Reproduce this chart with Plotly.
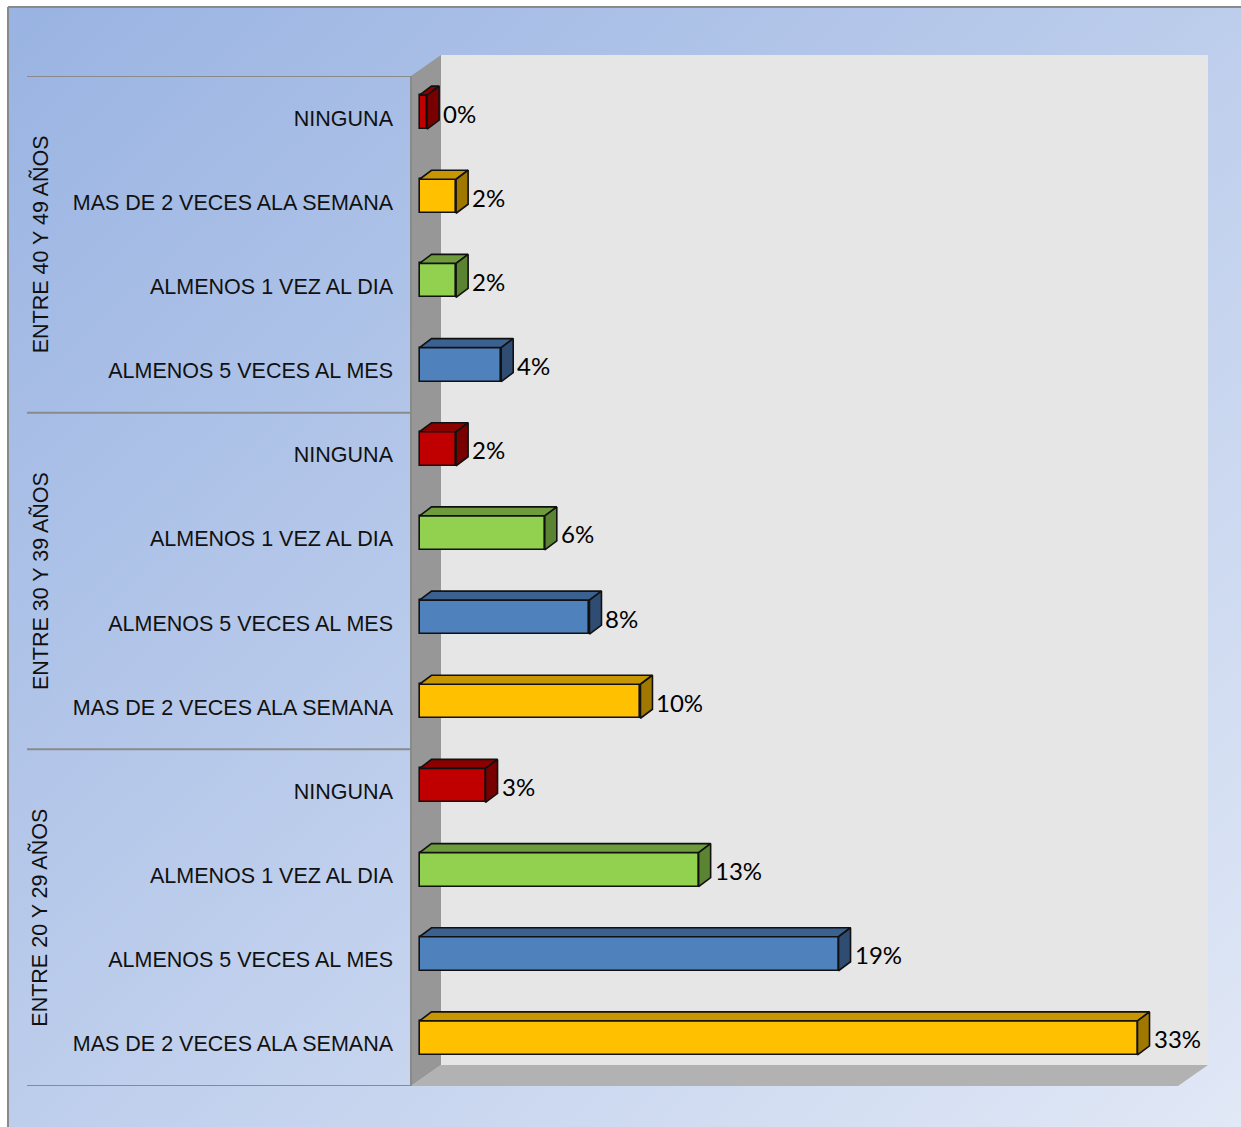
import base64
import plotly.graph_objects as go

# ---------------- data ----------------
groups = ["ENTRE 20 Y 29 AÑOS", "ENTRE 30 Y 39 AÑOS", "ENTRE 40 Y 49 AÑOS"]
categories = [
    "MAS DE 2 VECES ALA SEMANA", "ALMENOS 5 VECES AL MES", "ALMENOS 1 VEZ AL DIA", "NINGUNA",
    "MAS DE 2 VECES ALA SEMANA", "ALMENOS 5 VECES AL MES", "ALMENOS 1 VEZ AL DIA", "NINGUNA",
    "ALMENOS 5 VECES AL MES", "ALMENOS 1 VEZ AL DIA", "MAS DE 2 VECES ALA SEMANA", "NINGUNA",
]
group_index = [0, 0, 0, 0, 1, 1, 1, 1, 2, 2, 2, 2]
values = [32.95, 19.23, 12.81, 3.03, 10.14, 7.80, 5.75, 1.68, 3.75, 1.68, 1.68, 0.35]

# ---------------- styles ----------------
palette = {
    "MAS DE 2 VECES ALA SEMANA": ("#FFC000", "#C89600", "#A07800"),
    "ALMENOS 5 VECES AL MES": ("#4F81BD", "#3B6190", "#2F4D72"),
    "ALMENOS 1 VEZ AL DIA": ("#92D050", "#6E9C3C", "#5B8432"),
    "NINGUNA": ("#C00000", "#8C0000", "#780000"),
}

W, H = 1241, 1127
L, R, T, B = 411, 1178, 76, 1086      # front plane of plot area (px)
X0PX = 419.5                          # bar start (px)
SX = (1137.5 - X0PX) / 32.95          # px per percent
n = len(categories)
SY = (B - T) / n
DEPTH_X, DEPTH_Y = 30, 21             # wall depth (px)
BAR_DX, BAR_DY = 12, 9                # bar depth (px)
BW = 34 / SY                          # bar thickness (y units)
BOFF = 6 / SY                         # bar center offset (y units)
DXU, DYU = BAR_DX / SX, BAR_DY / SY
LABEL_FONT = "Liberation Sans, Arial, sans-serif"


def pxx(p):
    return (p - L) / (R - L)


def pxy(p):
    return (B - p) / (B - T)


def path(points):
    return "M " + " L ".join(f"{pxx(a):.5f},{pxy(b):.5f}" for a, b in points) + " Z"


ypos = [i + BOFF for i in range(n)]
front = [palette[c][0] for c in categories]

fig = go.Figure()
fig.add_trace(go.Bar(
    x=values, y=ypos, orientation="h", width=BW,
    marker=dict(color=front, line=dict(color="#111111", width=1.6)),
    hoverinfo="skip", showlegend=False,
))

for v, yc, c in zip(values, ypos, categories):
    _, top_c, side_c = palette[c]
    yt, yb = yc + BW / 2, yc - BW / 2
    fig.add_trace(go.Scatter(
        x=[0, DXU, v + DXU, v, 0], y=[yt, yt + DYU, yt + DYU, yt, yt],
        fill="toself", fillcolor=top_c, mode="lines",
        line=dict(color="#111111", width=1.6), hoverinfo="skip", showlegend=False))
    fig.add_trace(go.Scatter(
        x=[v, v + DXU, v + DXU, v, v], y=[yt, yt + DYU, yb + DYU, yb, yt],
        fill="toself", fillcolor=side_c, mode="lines",
        line=dict(color="#111111", width=1.6), hoverinfo="skip", showlegend=False))

annotations = []
for v, yc in zip(values, ypos):
    annotations.append(dict(
        x=v, y=yc, xref="x", yref="y", text=f"{round(v)}%", showarrow=False,
        xanchor="left", yanchor="middle", xshift=BAR_DX + 2, yshift=-1,
        font=dict(family="Lato, Open Sans, sans-serif", size=24, color="#000000")))

for gi, g in enumerate(groups):
    idx = [i for i, k in enumerate(group_index) if k == gi]
    annotations.append(dict(
        x=pxx(40), y=(min(idx) + max(idx)) / 2, xref="paper", yref="y", text=g,
        textangle=-90, showarrow=False, xanchor="center", yanchor="middle",
        font=dict(family=LABEL_FONT, size=21.5, color="#111111")))

svg = (
    '<svg xmlns="http://www.w3.org/2000/svg" width="1233" height="1121" preserveAspectRatio="none">'
    '<defs><linearGradient id="g" x1="0" y1="0" x2="1" y2="1">'
    '<stop offset="0" stop-color="#99b3e2"/><stop offset="1" stop-color="#e1e8f6"/>'
    '</linearGradient></defs><rect width="100%" height="100%" fill="url(#g)"/></svg>'
)
src = "data:image/svg+xml;base64," + base64.b64encode(svg.encode()).decode()

shapes = [
    # back wall
    dict(type="path", xref="paper", yref="paper", layer="below",
         path=path([(L + DEPTH_X, T - DEPTH_Y), (R + DEPTH_X, T - DEPTH_Y),
                    (R + DEPTH_X, B - DEPTH_Y), (L + DEPTH_X, B - DEPTH_Y)]),
         fillcolor="#e6e6e6", line=dict(width=0)),
    # side wall
    dict(type="path", xref="paper", yref="paper", layer="below",
         path=path([(L, T), (L + DEPTH_X, T - DEPTH_Y), (L + DEPTH_X, B - DEPTH_Y), (L, B)]),
         fillcolor="#979797", line=dict(width=0)),
    # floor
    dict(type="path", xref="paper", yref="paper", layer="below",
         path=path([(L, B), (L + DEPTH_X, B - DEPTH_Y), (R + DEPTH_X, B - DEPTH_Y), (R, B)]),
         fillcolor="#b2b2b2", line=dict(width=0)),
    # outer border
    dict(type="line", xref="paper", yref="paper", x0=pxx(8), x1=pxx(W + 5), y0=pxy(7), y1=pxy(7),
         line=dict(color="#8a8a8a", width=2)),
    dict(type="line", xref="paper", yref="paper", x0=pxx(8), x1=pxx(8), y0=pxy(7), y1=pxy(H + 5),
         line=dict(color="#8a8a8a", width=2)),
    # axis line
    dict(type="line", xref="paper", yref="paper", x0=0, x1=0, y0=0, y1=1,
         line=dict(color="#8a8a8a", width=2)),
]
for b in [-0.5, 3.5, 7.5, 11.5]:
    shapes.append(dict(type="line", xref="paper", yref="y", x0=pxx(27), x1=0, y0=b, y1=b,
                       line=dict(color="#8a8a8a", width=2)))

fig.update_layout(
    width=W, height=H,
    margin=dict(l=L, r=W - R, t=T, b=H - B, pad=0),
    paper_bgcolor="#ffffff", plot_bgcolor="rgba(0,0,0,0)",
    showlegend=False, hovermode=False, bargap=0,
    images=[dict(source=src, xref="paper", yref="paper", x=pxx(8), y=pxy(7),
                 sizex=pxx(W) - pxx(8), sizey=pxy(7) - pxy(H), xanchor="left", yanchor="top",
                 sizing="stretch", layer="below")],
    shapes=shapes, annotations=annotations,
    xaxis=dict(range=[(L - X0PX) / SX, (R - X0PX) / SX], visible=False, fixedrange=True),
    yaxis=dict(range=[-0.5, n - 0.5], tickmode="array", tickvals=list(range(n)),
               ticktext=categories, ticks="", showgrid=False, zeroline=False, showline=False,
               ticklabelstandoff=17, fixedrange=True,
               tickfont=dict(family=LABEL_FONT, size=21.5, color="#111111")),
)

fig.write_html("out.html", config={"displayModeBar": False},
               post_script="document.body.style.margin='0';document.body.style.overflow='hidden';")
